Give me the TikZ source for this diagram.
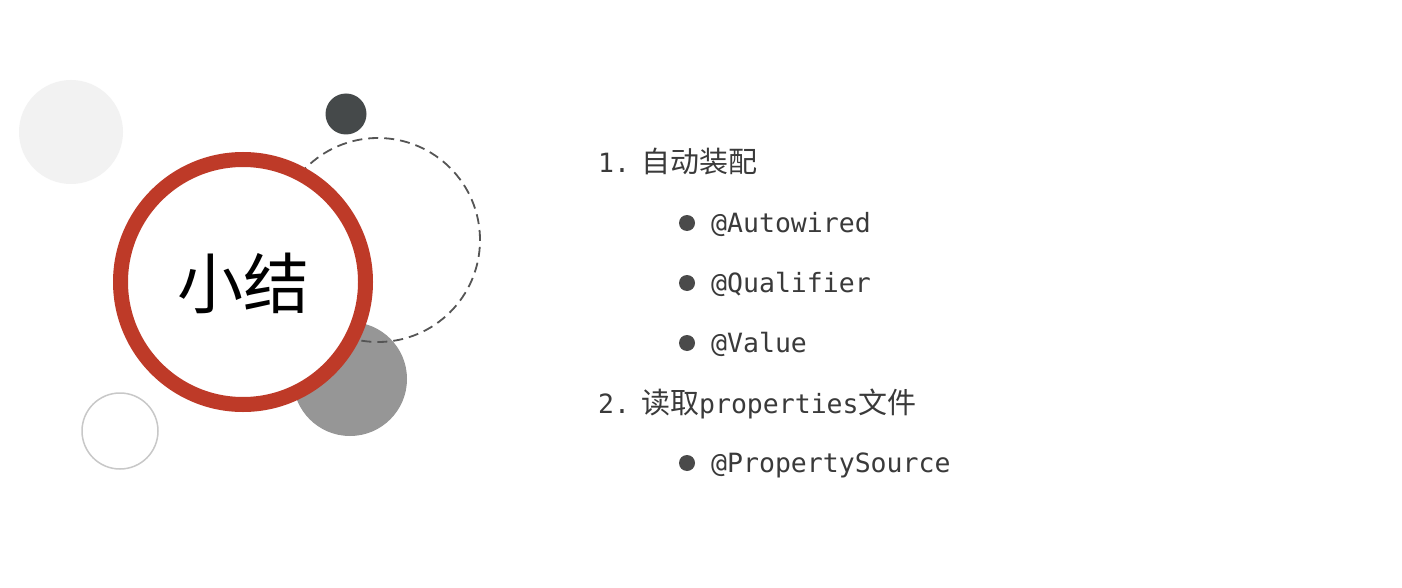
\documentclass[tikz,border=0pt]{standalone}
\usepackage{fontspec}
\setmainfont{DejaVu Sans Mono}
\newfontfamily\cjk{Noto Sans CJK SC}
\newfontfamily\mono{DejaVu Sans Mono}
\definecolor{ringred}{HTML}{BE3A28}
\definecolor{lightfill}{HTML}{F2F2F2}
\definecolor{darkdot}{HTML}{45494A}
\definecolor{midgray}{HTML}{969696}
\definecolor{dashgray}{HTML}{555555}
\definecolor{outlinegray}{HTML}{C8C8C8}
\definecolor{txt}{HTML}{3A3A3A}
\definecolor{bul}{HTML}{4A4A4A}
\tikzset{
  itemtext/.style={anchor=base west, inner sep=0pt, text=txt, font=\mono\fontsize{26.5}{30}\selectfont},
  headtext/.style={anchor=base west, inner sep=0pt, text=txt},
  bulletdot/.style={circle, fill=bul, minimum size=16pt, inner sep=0pt},
}
\newcommand{\cj}[1]{{\cjk\fontsize{29}{32}\selectfont #1}}
\newcommand{\mn}[1]{{\mono\fontsize{26.5}{30}\selectfont #1}}
\begin{document}
\begin{tikzpicture}[x=1pt,y=-1pt]
\useasboundingbox[fill=white] (0,0) rectangle (1402,588);
% decorative circles
\fill[lightfill] (71,132) circle[radius=52pt];
\draw[outlinegray, line width=1.5pt] (120,431) circle[radius=38pt];
\fill[midgray] (350,379) circle[radius=57pt];
\draw[dashgray, line width=1.8pt, dash pattern=on 10pt off 6pt] (378,240) circle[radius=102pt];
\fill[darkdot] (346,114) circle[radius=20.5pt];
\draw[ringred, line width=15pt, fill=white] (243,282) circle[radius=122.5pt];
\node[inner sep=0pt, font=\cjk\fontsize{66}{70}\selectfont] (title) at (243,283) {小结};
% list
\node[headtext] (h1) at (598,173) {\mn{1.}\hspace{11pt}\cj{自动装配}};
\node[bulletdot] (b1) at (687,223) {};
\node[itemtext] (i1) at (711,232.5) {@Autowired};
\node[bulletdot] (b2) at (687,283) {};
\node[itemtext] (i2) at (711,292.5) {@Qualifier};
\node[bulletdot] (b3) at (687,343) {};
\node[itemtext] (i3) at (711,352.5) {@Value};
\node[headtext] (h2) at (598,413) {\mn{2.}\hspace{11pt}\cj{读取}\mn{properties}\cj{文件}};
\node[bulletdot] (b4) at (687,463) {};
\node[itemtext] (i4) at (711,472.5) {@PropertySource};
\end{tikzpicture}
\end{document}
